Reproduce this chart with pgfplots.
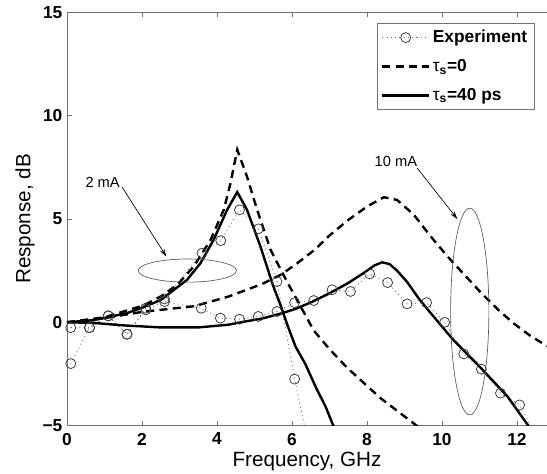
\documentclass[border=0pt]{standalone}
\usepackage{pgfplots}
\pgfplotsset{compat=1.18}
\usepackage{fontspec}
\setmainfont{Liberation Sans}
\usetikzlibrary{arrows.meta}

\definecolor{axgray}{gray}{0.45}
\definecolor{expgray}{gray}{0.45}

\begin{document}
\begin{tikzpicture}
\begin{axis}[
    name=ax,
    scale only axis,
    width=360pt, height=310pt,
    xmin=0, xmax=12.8,
    ymin=-5, ymax=15,
    axis y line=left,
    y axis line style={-},
    axis line style={axgray, line width=0.7pt},
    tick align=inside,
    major tick length=3.5pt,
    tick style={axgray, line width=0.6pt},
    xtick={0,2,4,6,8,10,12},
    xticklabels={0,2,4,6,8,10,12},
    ytick={-5,0,5,10,15},
    yticklabels={−5,0,5,10,15},
    ticklabel style={font=\bfseries\fontsize{13}{15}\selectfont},
    xticklabel style={yshift=-2pt},
    xlabel={Frequency, GHz},
    ylabel={Response, dB},
    label style={font=\fontsize{15.5}{18}\selectfont},
    x label style={at={(axis description cs:0.5,-0.0877)}, anchor=center},
    y label style={at={(axis description cs:-0.0875,0.5)}, anchor=center},
    legend cell align=left,
    legend style={at={(1,1)}, anchor=north east, xshift=-9.5pt, yshift=-8.25pt,
        draw=axgray, fill=white, line width=0.6pt, inner ysep=3pt,
        font=\bfseries\fontsize{13}{15}\selectfont, row sep=7pt},
    legend image code/.code={
        \draw[mark repeat=2,mark phase=2,#1] plot coordinates {(0pt,0pt) (17.5pt,0pt) (35pt,0pt)};
    },
]

% experiment, 2 mA
\addplot[expgray, line width=0.6pt, dash pattern=on 0.8pt off 2.4pt,
    mark=o, mark size=3.75pt, mark options={solid, draw=black!75, line width=0.6pt}]
coordinates {
    (0.1,-0.26) (0.6,-0.26) (1.1,0.31) (1.6,-0.58) (2.1,0.68) (2.6,1.13)
    (3.6,3.34) (4.1,3.95) (4.6,5.44) (5.1,4.52) (5.6,1.97) (6.07,-2.75) (6.6,-7.3)
};
\addlegendentry{Experiment}

% experiment, 10 mA
\addplot[forget plot, expgray, line width=0.6pt, dash pattern=on 0.8pt off 2.4pt,
    mark=o, mark size=3.75pt, mark options={solid, draw=black!75, line width=0.6pt}]
coordinates {
    (0.1,-2.0) (0.6,-0.26) (1.1,0.31) (1.6,-0.58) (2.1,0.6) (2.6,1.0)
    (3.58,0.68) (4.09,0.2) (4.6,0.15) (5.1,0.28) (5.6,0.52) (6.07,0.95)
    (6.58,1.05) (7.07,1.57) (7.56,1.49) (8.07,2.34) (8.55,1.92) (9.07,0.89)
    (9.59,0.95) (10.07,0.0) (10.58,-1.53) (11.05,-2.27) (11.56,-3.43)
    (12.07,-4.0) (12.57,-5.7)
};

% tau_s = 0, 2 mA
\addplot[black, line width=1.8pt, dash pattern=on 6pt off 4pt, mark=none]
coordinates {
    (0,0) (1.0,0.24) (2.05,0.82) (2.5,1.25) (2.94,1.81) (3.38,2.7) (3.83,3.99)
    (4.18,5.44) (4.36,6.73) (4.54,8.35) (4.8,7.05) (5.07,5.44) (5.43,3.5)
    (5.87,1.95) (6.1,1.2) (6.58,-0.4) (7.0,-1.3) (7.47,-2.2) (8.36,-3.67)
    (9.25,-4.9) (9.6,-5.4)
};
\addlegendentry{{\mdseries τ}\textsubscript{s}=0}

% tau_s = 0, 10 mA
\addplot[forget plot, black, line width=1.8pt, dash pattern=on 6pt off 4pt, mark=none]
coordinates {
    (0,0) (1.0,0.2) (2.0,0.5) (3.0,0.7) (3.4,0.78) (4.3,1.24) (5.2,1.85)
    (5.7,2.3) (6.1,2.8) (6.6,3.5) (7.0,4.2) (7.5,4.95) (8.0,5.6) (8.45,6.05)
    (8.8,5.92) (9.25,5.2) (9.7,4.15) (10.15,3.18) (10.6,2.29) (11.05,1.41)
    (11.5,0.6) (11.9,-0.04) (12.35,-0.65) (12.8,-1.15)
};

% tau_s = 40 ps, 2 mA
\addplot[black, line width=1.8pt, mark=none]
coordinates {
    (0,0) (0.7,0.1) (1.6,0.44) (2.0,0.7) (2.5,1.08) (3.2,2.05) (3.56,2.86)
    (3.91,3.99) (4.27,5.44) (4.54,6.3) (4.8,5.44) (5.16,3.66) (5.5,1.75)
    (5.7,0.8) (5.9,-0.25) (6.1,-1.2) (6.35,-2.0) (6.65,-3.2) (6.9,-4.1)
    (7.1,-5.0) (7.3,-5.8)
};
\addlegendentry{{\mdseries τ}\textsubscript{s}=40 ps}

% tau_s = 40 ps, 10 mA
\addplot[forget plot, black, line width=1.8pt, mark=none]
coordinates {
    (0,0) (0.7,-0.03) (1.5,-0.15) (2.5,-0.25) (3.5,-0.25) (4.3,-0.12)
    (4.7,0.02) (5.2,0.18) (5.7,0.42) (6.1,0.65) (6.55,1.0) (7.0,1.4)
    (7.5,1.9) (7.9,2.37) (8.2,2.75) (8.4,2.9) (8.6,2.82) (8.8,2.5)
    (9.07,1.95) (9.4,1.1) (9.7,0.44) (10.3,-0.85) (11.0,-2.14) (11.75,-3.6)
    (12.3,-5.0) (12.5,-5.5)
};

% annotations
\draw[gray!70!black, line width=0.5pt] (axis cs:3.21,2.5) ellipse [x radius=1.31, y radius=0.56];
\draw[-{Stealth[length=6pt,width=3.5pt]}, line width=0.5pt] (axis cs:1.47,6.54) -- (axis cs:2.65,3.18);
\node[font=\fontsize{11}{13}\selectfont] at (axis cs:0.95,6.76) {2 mA};

\draw[gray!70!black, line width=0.5pt] (axis cs:10.74,0.52) ellipse [x radius=0.51, y radius=5.0];
\draw[-{Stealth[length=6pt,width=3.5pt]}, line width=0.5pt] (axis cs:9.34,7.46) -- (axis cs:10.41,4.99);
\node[font=\fontsize{11}{13}\selectfont] at (axis cs:8.77,7.77) {10 mA};
\end{axis}
\pgfresetboundingbox
\path[use as bounding box] ([xshift=-50.25pt,yshift=-36.2pt]ax.south west) rectangle ([yshift=9.2pt]ax.north east);
\end{tikzpicture}
\end{document}
